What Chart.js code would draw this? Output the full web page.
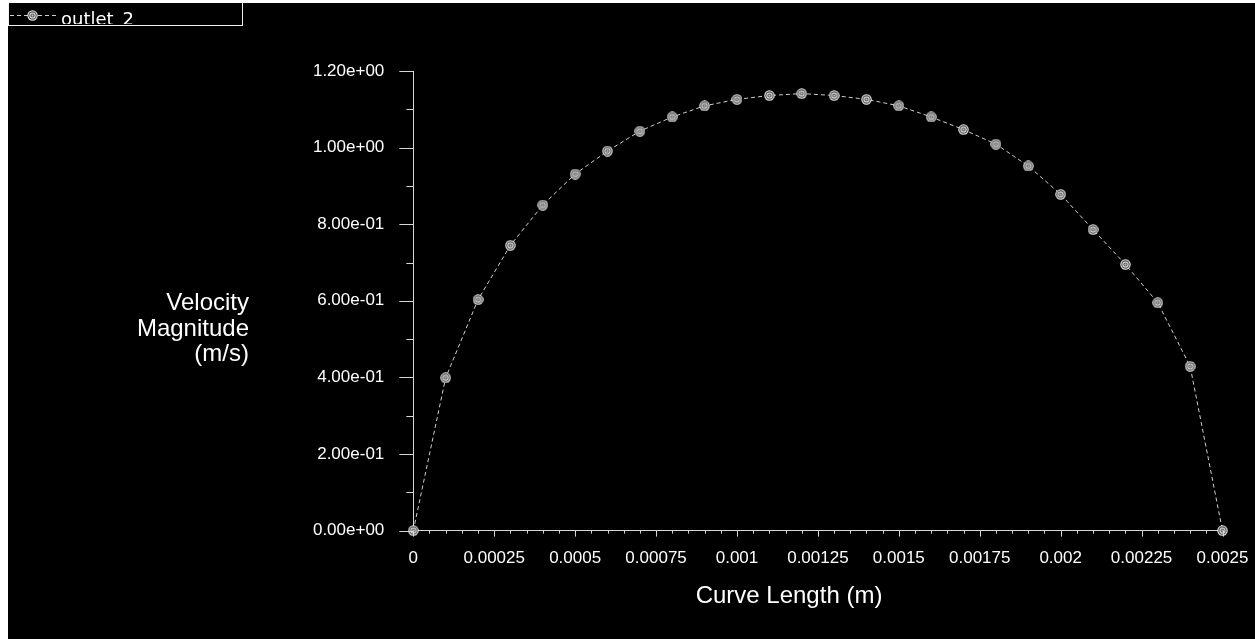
<!DOCTYPE html>
<html>
<head>
<meta charset="utf-8">
<script src="https://cdn.jsdelivr.net/npm/chart.js@4/dist/chart.umd.min.js"></script>
<style>
  html, body { margin: 0; padding: 0; background: #fff; }
  #frame { position: absolute; left: 8px; top: 3px; width: 1247px; height: 636px; background: #000; }
  #plot { display: block; }
</style>
</head>
<body>
<div id="frame"><canvas id="plot" width="1247" height="636"></canvas></div>
<script>
var seriesName = "outlet_2";
var curveLength = [0, 0.0001, 0.0002, 0.0003, 0.0004, 0.0005, 0.0006, 0.0007, 0.0008, 0.0009,
  0.001, 0.0011, 0.0012, 0.0013, 0.0014, 0.0015, 0.0016, 0.0017, 0.0018, 0.0019,
  0.002, 0.0021, 0.0022, 0.0023, 0.0024, 0.0025];
var velocity = [0, 0.399, 0.603, 0.745, 0.850, 0.931, 0.991, 1.043, 1.080, 1.109,
  1.126, 1.136, 1.141, 1.136, 1.126, 1.109, 1.080, 1.047, 1.009, 0.952,
  0.878, 0.786, 0.695, 0.595, 0.429, 0];

var xTickValues = [0, 0.00025, 0.0005, 0.00075, 0.001, 0.00125, 0.0015, 0.00175, 0.002, 0.00225, 0.0025];
var xTickLabels = ["0", "0.00025", "0.0005", "0.00075", "0.001", "0.00125", "0.0015", "0.00175", "0.002", "0.00225", "0.0025"];
var yTickValues = [0, 0.2, 0.4, 0.6, 0.8, 1.0, 1.2];
var yTickLabels = ["0.00e+00", "2.00e-01", "4.00e-01", "6.00e-01", "8.00e-01", "1.00e+00", "1.20e+00"];
var yTitleLines = ["Velocity", "Magnitude", "(m/s)"];
var xTitle = "Curve Length (m)";

(function () {
  var FONT = "'Liberation Sans', Arial, sans-serif";
  var AXIS = "#d8d8d8";
  var LINE = "#cfcfcf";

  // concentric ring marker like the fluent plot symbol
  function makeMarker() {
    var c = document.createElement("canvas");
    c.width = 11;
    c.height = 11;
    var g = c.getContext("2d");
    function disc(r, col) {
      g.beginPath();
      g.arc(5.5, 5.5, r, 0, Math.PI * 2);
      g.fillStyle = col;
      g.fill();
    }
    disc(5.2, "#f0f0f0");
    disc(4.2, "#4a4a4a");
    disc(3.1, "#e4e4e4");
    disc(2.1, "#5e5e5e");
    disc(1.0, "#c4c4c4");
    return c;
  }
  var marker = makeMarker();

  var decorations = {
    id: "decorations",
    afterDraw: function (chart) {
      var ctx = chart.ctx;
      var xs = chart.scales.x;
      var ys = chart.scales.y;
      var area = chart.chartArea;
      var i, p;
      ctx.save();
      ctx.strokeStyle = AXIS;
      ctx.lineWidth = 1;

      // y ticks: major every 0.2 (14px), minor at 0.1 (7px)
      for (i = 0; i <= 12; i++) {
        p = Math.round(ys.getPixelForValue(i * 0.1)) + 0.5;
        var len = i % 2 === 0 ? 14 : 7;
        ctx.beginPath();
        ctx.moveTo(area.left - len, p);
        ctx.lineTo(area.left, p);
        ctx.stroke();
      }
      // x ticks: major every 0.00025 (6px), minor every 0.00005 (3px)
      for (i = 0; i <= 50; i++) {
        p = Math.round(xs.getPixelForValue(i * 0.00005)) + 0.5;
        var l2 = i % 5 === 0 ? 6 : 3;
        ctx.beginPath();
        ctx.moveTo(p, area.bottom);
        ctx.lineTo(p, area.bottom + l2);
        ctx.stroke();
      }

      // titles
      ctx.fillStyle = "#fff";
      ctx.font = "24px " + FONT;
      ctx.textAlign = "right";
      ctx.textBaseline = "alphabetic";
      yTitleLines.forEach(function (t, k) {
        ctx.fillText(t, 241, 307 + k * 25.5);
      });
      ctx.textAlign = "center";
      ctx.fillText(xTitle, 781, 600);

      // legend box in the top-left corner
      ctx.strokeStyle = "#f0f0f0";
      ctx.strokeRect(0.5, -0.5, 234, 23);
      ctx.beginPath();
      ctx.rect(1, 0, 233, 21);
      ctx.clip();
      ctx.strokeStyle = LINE;
      ctx.setLineDash([4, 3]);
      ctx.beginPath();
      ctx.moveTo(2, 12.5);
      ctx.lineTo(50, 12.5);
      ctx.stroke();
      ctx.setLineDash([]);
      ctx.drawImage(marker, 24.5 - 5.5, 12.5 - 5.5);
      ctx.fillStyle = "#fff";
      ctx.textAlign = "left";
      ctx.font = "18px 'DejaVu Sans', " + FONT;
      ctx.fillText(seriesName, 53, 22);
      ctx.restore();
    },
  };

  var points = curveLength.map(function (x, i) {
    return { x: x, y: velocity[i] };
  });

  new Chart(document.getElementById("plot"), {
    type: "line",
    data: {
      datasets: [
        {
          label: seriesName,
          data: points,
          borderColor: LINE,
          borderWidth: 1,
          borderDash: [4, 3],
          tension: 0,
          fill: false,
          clip: false,
          pointStyle: marker,
          pointRadius: 5,
        },
      ],
    },
    options: {
      responsive: false,
      devicePixelRatio: 1,
      animation: false,
      layout: { padding: { left: 0, top: 68, right: 32.5, bottom: 0 } },
      plugins: { legend: { display: false }, tooltip: { enabled: false } },
      scales: {
        x: {
          type: "linear",
          position: "bottom",
          min: 0,
          max: 0.0025,
          afterBuildTicks: function (scale) {
            scale.ticks = xTickValues.map(function (v) { return { value: v }; });
          },
          afterFit: function (scale) {
            scale.height = 636 - 527.6;
            scale.paddingLeft = 0;
            scale.paddingRight = 0;
          },
          grid: { display: false, drawTicks: false },
          border: { display: true, color: AXIS, width: 1 },
          ticks: {
            color: "#fff",
            padding: 18,
            maxRotation: 0,
            autoSkip: false,
            font: { family: FONT, size: 17 },
            callback: function (v, idx) { return xTickLabels[idx]; },
          },
        },
        y: {
          type: "linear",
          min: 0,
          max: 1.2,
          afterBuildTicks: function (scale) {
            scale.ticks = yTickValues.map(function (v) { return { value: v }; });
          },
          afterFit: function (scale) {
            scale.width = 405.3;
            scale.paddingTop = 0;
            scale.paddingBottom = 0;
          },
          grid: { display: false, drawTicks: false },
          border: { display: true, color: AXIS, width: 1 },
          ticks: {
            color: "#fff",
            padding: 29,
            autoSkip: false,
            font: { family: FONT, size: 17 },
            callback: function (v, idx) { return yTickLabels[idx]; },
          },
        },
      },
    },
    plugins: [decorations],
  });
})();
</script>
</body>
</html>
